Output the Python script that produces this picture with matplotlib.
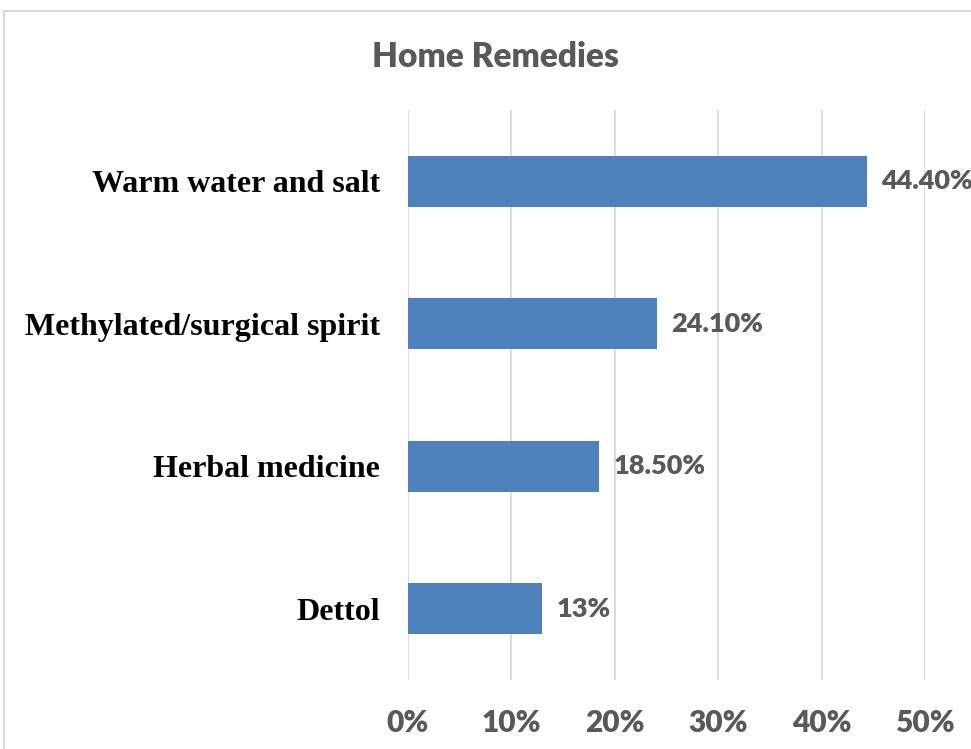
import matplotlib.pyplot as plt
from matplotlib.patches import Rectangle
from matplotlib.ticker import PercentFormatter

# data (bottom to top)
remedies = ['Dettol', 'Herbal medicine', 'Methylated/surgical spirit', 'Warm water and salt']
shares = [0.13, 0.185, 0.241, 0.444]
value_labels = ['13%', '18.50%', '24.10%', '44.40%']

bar_color = '#4F81BD'
text_gray = '#595959'
grid_gray = '#D9D9D9'

fig = plt.figure(figsize=(9.71, 7.49), dpi=100)
ax = fig.add_axes([0.420, 0.092, 0.5326, 0.761])

ax.barh(remedies, shares, height=0.36, color=bar_color, zorder=3)
for i, v in enumerate(shares):
    ax.text(v + 0.0135, i, value_labels[i], va='center', ha='left',
            fontsize=19.5, fontweight='heavy', color=text_gray, family='Lato')

ax.set_xlim(0, 0.5)
ax.set_ylim(-0.5, 3.5)
ax.set_xticks([0, 0.1, 0.2, 0.3, 0.4, 0.5])
ax.xaxis.set_major_formatter(PercentFormatter(1.0, decimals=0))
ax.grid(axis='x', color=grid_gray, linewidth=1.3, zorder=0)
for s in ax.spines.values():
    s.set_visible(False)
ax.tick_params(axis='both', length=0)
ax.tick_params(axis='x', pad=21)
ax.tick_params(axis='y', pad=20)
for lab in ax.get_xticklabels():
    lab.set_fontsize(21.5)
    lab.set_fontweight('heavy')
    lab.set_color(text_gray)
    lab.set_family('Lato')
for lab in ax.get_yticklabels():
    lab.set_fontsize(23)
    lab.set_fontweight('bold')
    lab.set_color('black')
    lab.set_family('Liberation Serif')

fig.text(0.51, 1 - 57 / 749, 'Home Remedies', ha='center', va='center',
         fontsize=24, fontweight='heavy', color=text_gray, family='Lato')

# chart border
fig.patches.append(Rectangle((4 / 971, -0.05), 1.2, 1 - 11 / 749 + 0.05,
                             transform=fig.transFigure, fill=False,
                             edgecolor=grid_gray, linewidth=1.5))

fig.savefig('out.png', dpi=100)
